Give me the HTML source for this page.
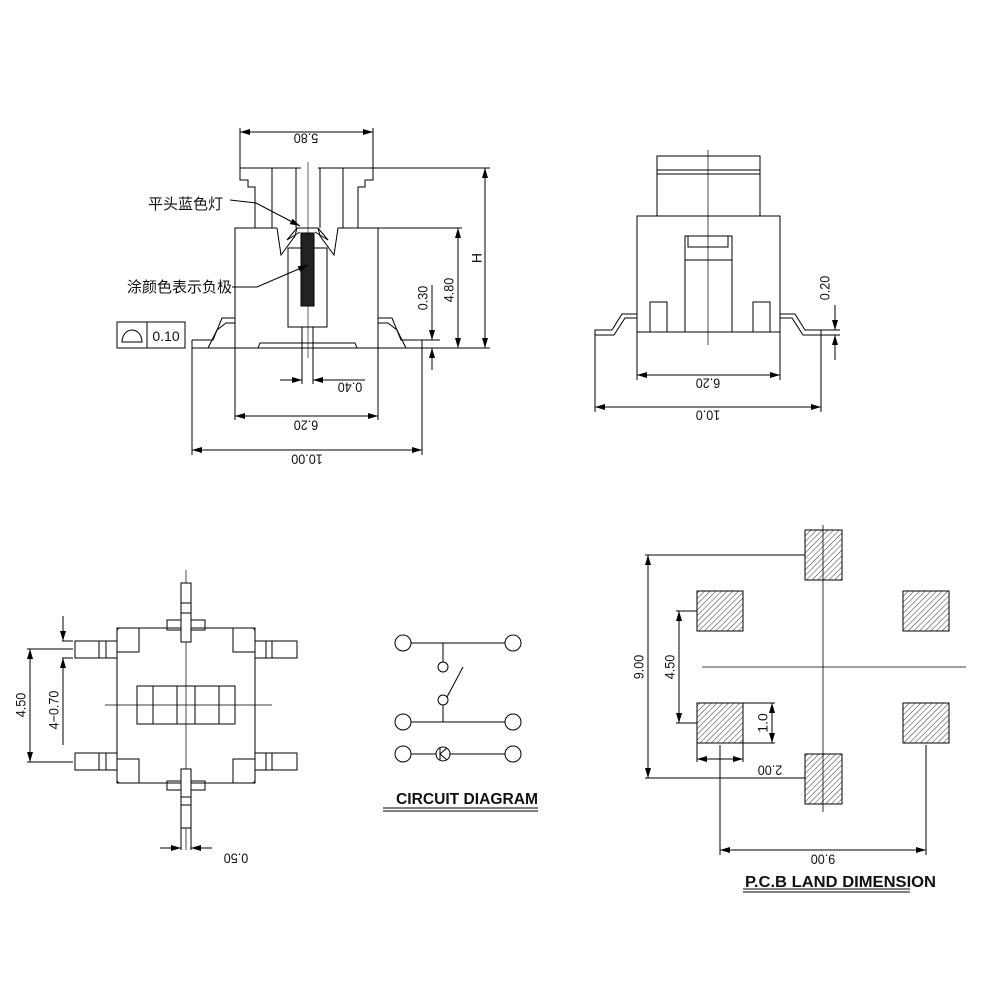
<!DOCTYPE html>
<html><head><meta charset="utf-8"><style>
html,body{margin:0;padding:0;background:#fff}
svg{display:block}
text{font-family:"Liberation Sans","Noto Sans CJK SC",sans-serif;fill:#111}
.d{font-size:14px}
</style></head><body>
<svg width="1000" height="1001" viewBox="0 0 1000 1001" xmlns="http://www.w3.org/2000/svg">
<defs>
<marker id="a" viewBox="0 0 10 6" refX="10" refY="3" markerWidth="10" markerHeight="6" orient="auto-start-reverse" markerUnits="userSpaceOnUse"><path d="M0,0L10,3L0,6z" fill="#000"/></marker>
<pattern id="h" width="4" height="4" patternUnits="userSpaceOnUse" patternTransform="rotate(45)"><line x1="0" y1="0" x2="0" y2="4" stroke="#000" stroke-width="0.8"/></pattern>
</defs>
<g fill="none" stroke="#000" stroke-width="1">
<line x1="240" y1="128" x2="240" y2="168"/><line x1="373" y1="128" x2="373" y2="168"/>
<line x1="240" y1="132" x2="373" y2="132" marker-start="url(#a)" marker-end="url(#a)"/>
<polyline points="301,168 240,168 240,180 248,180 248,187 255,187 255,228"/>
<polyline points="318,168 373,168 373,180 365,180 365,187 358,187 358,228"/>
<line x1="272" y1="168" x2="272" y2="228"/><line x1="296" y1="168" x2="296" y2="228"/>
<line x1="320" y1="168" x2="320" y2="228"/><line x1="343" y1="168" x2="343" y2="228"/>
<line x1="308" y1="162" x2="308" y2="358" stroke-width="0.6"/>
<polyline points="277,228 235,228 235,348"/>
<polyline points="277,228 281,255 295,236 297,228 318,228 320,236 334,255 338,228 378,228 378,348"/>
<polyline points="297,228 287,240 300,232"/>
<polyline points="318,228 328,240 315,232"/>
<rect x="288" y="248" width="39" height="79"/>
<rect x="301" y="233" width="13" height="73" fill="#222"/>
<polyline points="302,327 302,348 302,355"/><polyline points="313,327 313,348 313,355"/>
<polyline points="192,340 192,348 422,348 422,340"/>
<polyline points="258,348 260,343 355,343 357,348"/>
<polyline points="192,340 213,340 222,318 235,318"/>
<polyline points="208,348 217,330 226,323 235,323"/>
<polyline points="422,340 401,340 392,318 378,318"/>
<polyline points="406,348 397,330 388,323 378,323"/>
<rect x="117" y="322" width="68" height="26"/><line x1="147" y1="322" x2="147" y2="348"/>
<path d="M122,342 A10,12 0 0 1 142,342 Z"/>
<line x1="373" y1="168" x2="490" y2="168"/><line x1="378" y1="228" x2="462" y2="228"/><line x1="422" y1="348" x2="490" y2="348"/>
<line x1="485" y1="168" x2="485" y2="348" marker-start="url(#a)" marker-end="url(#a)"/>
<line x1="458" y1="228" x2="458" y2="348" marker-start="url(#a)" marker-end="url(#a)"/>
<line x1="432" y1="285" x2="432" y2="340" marker-end="url(#a)"/>
<line x1="432" y1="370" x2="432" y2="348" marker-end="url(#a)"/>
<line x1="420" y1="340" x2="440" y2="340"/>
<line x1="302" y1="355" x2="302" y2="384"/><line x1="313" y1="355" x2="313" y2="384"/>
<line x1="280" y1="380" x2="302" y2="380" marker-end="url(#a)"/>
<line x1="365" y1="380" x2="313" y2="380" marker-end="url(#a)"/>
<line x1="235" y1="348" x2="235" y2="420"/><line x1="378" y1="348" x2="378" y2="420"/>
<line x1="235" y1="416" x2="378" y2="416" marker-start="url(#a)" marker-end="url(#a)"/>
<line x1="192" y1="348" x2="192" y2="455"/><line x1="422" y1="348" x2="422" y2="455"/>
<line x1="192" y1="450" x2="422" y2="450" marker-start="url(#a)" marker-end="url(#a)"/>
<polyline points="230,200 256,203 300,226" marker-end="url(#a)"/>
<polyline points="232,287 257,287 308,265" marker-end="url(#a)"/>

<rect x="657" y="156" width="103" height="60"/>
<line x1="657" y1="170" x2="760" y2="170"/><line x1="657" y1="174" x2="760" y2="174"/>
<rect x="637" y="216" width="143" height="116"/>
<rect x="685" y="236" width="47" height="96"/>
<rect x="688" y="236" width="40" height="11"/><line x1="685" y1="260" x2="732" y2="260"/>
<rect x="650" y="302" width="17" height="30"/><rect x="753" y="302" width="17" height="30"/>
<line x1="708" y1="150" x2="708" y2="345" stroke-width="0.7"/>
<polyline points="637,314 622,314 612,330 595,330 595,335 614,335 625,318 637,318"/>
<polyline points="780,314 795,314 805,330 821,330 821,335 803,335 792,318 780,318"/>
<line x1="637" y1="332" x2="637" y2="380"/><line x1="780" y1="332" x2="780" y2="380"/>
<line x1="637" y1="375" x2="780" y2="375" marker-start="url(#a)" marker-end="url(#a)"/>
<line x1="595" y1="335" x2="595" y2="412"/><line x1="821" y1="335" x2="821" y2="412"/>
<line x1="595" y1="407" x2="821" y2="407" marker-start="url(#a)" marker-end="url(#a)"/>
<line x1="821" y1="330" x2="840" y2="330"/><line x1="821" y1="335" x2="840" y2="335"/>
<line x1="835" y1="305" x2="835" y2="330" marker-end="url(#a)"/>
<line x1="835" y1="360" x2="835" y2="335" marker-end="url(#a)"/>

<rect x="117" y="628" width="138" height="155" rx="3"/>
<rect x="117" y="628" width="22" height="24"/><rect x="233" y="628" width="22" height="24"/>
<rect x="117" y="759" width="22" height="24"/><rect x="233" y="759" width="22" height="24"/>
<rect x="137" y="686" width="98" height="38"/>
<line x1="153" y1="686" x2="153" y2="724"/><line x1="177" y1="686" x2="177" y2="724"/><line x1="195" y1="686" x2="195" y2="724"/><line x1="219" y1="686" x2="219" y2="724"/>
<line x1="186" y1="570" x2="186" y2="850" stroke-width="0.7"/>
<line x1="105" y1="705" x2="272" y2="705" stroke-width="0.7"/>
<rect x="167" y="620" width="38" height="10"/><rect x="181" y="583" width="10" height="59" fill="#fff"/>
<line x1="181" y1="603" x2="191" y2="603"/><line x1="181" y1="613" x2="191" y2="613"/>
<rect x="167" y="781" width="38" height="9"/><rect x="181" y="769" width="10" height="59" fill="#fff"/>
<line x1="181" y1="797" x2="191" y2="797"/><line x1="181" y1="805" x2="191" y2="805"/>
<rect x="75" y="641" width="42" height="17"/><line x1="99" y1="641" x2="99" y2="658"/><line x1="106" y1="641" x2="106" y2="658"/>
<rect x="75" y="753" width="42" height="17"/><line x1="99" y1="753" x2="99" y2="770"/><line x1="106" y1="753" x2="106" y2="770"/>
<rect x="255" y="641" width="42" height="17"/><line x1="266" y1="641" x2="266" y2="658"/><line x1="272" y1="641" x2="272" y2="658"/>
<rect x="255" y="753" width="42" height="17"/><line x1="266" y1="753" x2="266" y2="770"/><line x1="272" y1="753" x2="272" y2="770"/>
<line x1="62" y1="641" x2="73" y2="641"/><line x1="62" y1="658" x2="73" y2="658"/>
<line x1="27" y1="649" x2="73" y2="649"/><line x1="27" y1="762" x2="73" y2="762"/>
<line x1="30" y1="649" x2="30" y2="762" marker-start="url(#a)" marker-end="url(#a)"/>
<line x1="63" y1="616" x2="63" y2="641" marker-end="url(#a)"/>
<line x1="63" y1="745" x2="63" y2="658" marker-end="url(#a)"/>
<line x1="181" y1="828" x2="181" y2="850"/><line x1="191" y1="828" x2="191" y2="850"/>
<line x1="160" y1="848" x2="181" y2="848" marker-end="url(#a)"/>
<line x1="212" y1="848" x2="191" y2="848" marker-end="url(#a)"/>

<circle cx="403" cy="643" r="8"/><circle cx="513" cy="643" r="8"/>
<circle cx="403" cy="722" r="8"/><circle cx="513" cy="722" r="8"/>
<circle cx="403" cy="754" r="8"/><circle cx="513" cy="754" r="8"/>
<line x1="411" y1="643" x2="505" y2="643"/><line x1="411" y1="722" x2="505" y2="722"/>
<line x1="411" y1="754" x2="436" y2="754"/><line x1="450" y1="754" x2="505" y2="754"/>
<line x1="443" y1="643" x2="443" y2="662"/><circle cx="443" cy="667" r="5"/>
<circle cx="443" cy="700" r="5"/><line x1="443" y1="705" x2="443" y2="722"/>
<line x1="447" y1="697" x2="463" y2="667"/>
<circle cx="443" cy="754" r="7"/><polyline points="447,748 440,754 447,760"/><line x1="440" y1="748" x2="440" y2="760"/>
<line x1="383" y1="808" x2="538" y2="808"/><line x1="383" y1="811" x2="538" y2="811"/>

<rect x="805" y="530" width="37" height="50" fill="url(#h)"/>
<rect x="805" y="754" width="37" height="50" fill="url(#h)"/>
<rect x="697" y="591" width="46" height="40" fill="url(#h)"/>
<rect x="697" y="703" width="46" height="40" fill="url(#h)"/>
<rect x="903" y="591" width="46" height="40" fill="url(#h)"/>
<rect x="903" y="703" width="46" height="40" fill="url(#h)"/>
<line x1="823" y1="525" x2="823" y2="812" stroke-width="0.8"/>
<line x1="702" y1="667" x2="966" y2="667" stroke-width="0.8"/>
<line x1="645" y1="555" x2="805" y2="555"/><line x1="645" y1="778" x2="805" y2="778"/>
<line x1="648" y1="555" x2="648" y2="778" marker-start="url(#a)" marker-end="url(#a)"/>
<line x1="676" y1="611" x2="697" y2="611"/><line x1="676" y1="723" x2="697" y2="723"/>
<line x1="679" y1="611" x2="679" y2="723" marker-start="url(#a)" marker-end="url(#a)"/>
<line x1="743" y1="703" x2="775" y2="703"/><line x1="743" y1="743" x2="775" y2="743"/>
<line x1="772" y1="703" x2="772" y2="743" marker-start="url(#a)" marker-end="url(#a)"/>
<line x1="697" y1="743" x2="697" y2="762"/><line x1="743" y1="743" x2="743" y2="762"/>
<line x1="697" y1="759" x2="743" y2="759" marker-start="url(#a)" marker-end="url(#a)"/>
<line x1="720" y1="745" x2="720" y2="855"/><line x1="926" y1="745" x2="926" y2="855"/>
<line x1="720" y1="850" x2="926" y2="850" marker-start="url(#a)" marker-end="url(#a)"/>
<line x1="743" y1="889" x2="910" y2="889"/><line x1="743" y1="892" x2="910" y2="892"/>
</g>
<g class="d">
<text transform="translate(306,137) rotate(180) scale(0.9,1)" text-anchor="middle" dominant-baseline="middle">5.80</text>
<text transform="translate(478,258) rotate(-90)" text-anchor="middle" dominant-baseline="middle">H</text>
<text transform="translate(450,290) rotate(-90) scale(0.9,1)" text-anchor="middle" dominant-baseline="middle">4.80</text>
<text transform="translate(424,298) rotate(-90) scale(0.9,1)" text-anchor="middle" dominant-baseline="middle">0.30</text>
<text transform="translate(350,386) rotate(180) scale(0.9,1)" text-anchor="middle" dominant-baseline="middle">0.40</text>
<text transform="translate(306,424) rotate(180) scale(0.9,1)" text-anchor="middle" dominant-baseline="middle">6.20</text>
<text transform="translate(307,458) rotate(180) scale(0.9,1)" text-anchor="middle" dominant-baseline="middle">10.00</text>
<text x="166" y="341" text-anchor="middle">0.10</text>
<text transform="translate(708,382) rotate(180) scale(0.9,1)" text-anchor="middle" dominant-baseline="middle">6.20</text>
<text transform="translate(708,414) rotate(180) scale(0.9,1)" text-anchor="middle" dominant-baseline="middle">10.0</text>
<text transform="translate(826,288) rotate(-90) scale(0.9,1)" text-anchor="middle" dominant-baseline="middle">0.20</text>
<text transform="translate(22,705) rotate(-90) scale(0.9,1)" text-anchor="middle" dominant-baseline="middle">4.50</text>
<text transform="translate(55,710) rotate(-90) scale(0.9,1)" text-anchor="middle" dominant-baseline="middle">4−0.70</text>
<text transform="translate(236,857) rotate(180) scale(0.9,1)" text-anchor="middle" dominant-baseline="middle">0.50</text>
<text transform="translate(640,667) rotate(-90) scale(0.9,1)" text-anchor="middle" dominant-baseline="middle">9.00</text>
<text transform="translate(671,667) rotate(-90) scale(0.9,1)" text-anchor="middle" dominant-baseline="middle">4.50</text>
<text transform="translate(764,723) rotate(-90)" text-anchor="middle" dominant-baseline="middle">1.0</text>
<text transform="translate(770,769) rotate(180) scale(0.9,1)" text-anchor="middle" dominant-baseline="middle">2.00</text>
<text transform="translate(823,858) rotate(180) scale(0.9,1)" text-anchor="middle" dominant-baseline="middle">9.00</text>
</g>
<text x="148" y="209" font-size="15">平头蓝色灯</text>
<text x="127" y="292" font-size="15">涂颜色表示负极</text>
<text x="396" y="804" font-size="16" font-weight="bold" textLength="142" lengthAdjust="spacingAndGlyphs">CIRCUIT DIAGRAM</text>
<text x="745" y="887" font-size="16" font-weight="bold" textLength="191" lengthAdjust="spacingAndGlyphs">P.C.B LAND DIMENSION</text>
</svg>
</body></html>
